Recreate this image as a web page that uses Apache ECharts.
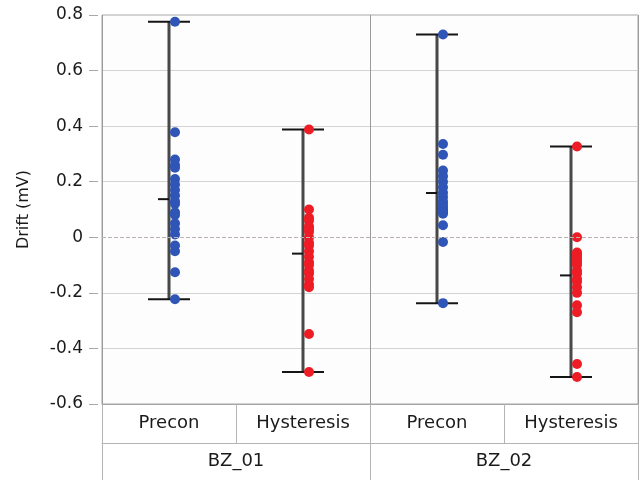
<!DOCTYPE html>
<html>
<head>
<meta charset="utf-8">
<script src="https://cdn.jsdelivr.net/npm/echarts@6/dist/echarts.min.js"></script>
<style>
html,body{margin:0;padding:0;background:#fff;}
#chart{width:641px;height:480px;}
</style>
</head>
<body>
<div id="chart"></div>
<script>
// ---- data ----
const categories = ['Precon', 'Hysteresis', 'Precon', 'Hysteresis'];
const groups = ['BZ_01', 'BZ_02'];
const bz01Precon = [0.776, 0.378, 0.28, 0.26, 0.25, 0.21, 0.19, 0.17, 0.15, 0.13, 0.12, 0.09, 0.08, 0.05, 0.03, 0.01, -0.03, -0.05, -0.126, -0.223];
const bz01Hysteresis = [0.388, 0.10, 0.07, 0.06, 0.04, 0.03, 0.02, 0.0, -0.02, -0.03, -0.05, -0.07, -0.09, -0.10, -0.12, -0.13, -0.15, -0.17, -0.18, -0.348, -0.485];
const bz02Precon = [0.73, 0.336, 0.297, 0.24, 0.22, 0.20, 0.18, 0.16, 0.145, 0.13, 0.12, 0.11, 0.10, 0.095, 0.09, 0.085, 0.043, -0.017, -0.237];
const bz02Hysteresis = [0.327, 0.0, -0.055, -0.06, -0.065, -0.07, -0.08, -0.09, -0.10, -0.12, -0.13, -0.15, -0.16, -0.18, -0.20, -0.245, -0.27, -0.456, -0.503];
const yMin = -0.6, yMax = 0.8, yStep = 0.2;

const columns = [bz01Precon, bz01Hysteresis, bz02Precon, bz02Hysteresis];
const BLUE = '#2f56b6', RED = '#ee1c25';
const colColors = [BLUE, RED, BLUE, RED];

// summary per column (min, max, mean) computed from the data
const summary = columns.map((vals, i) => {
  const mean = vals.reduce((a, b) => a + b, 0) / vals.length;
  return [i, Math.min(...vals), Math.max(...vals), mean];
});
const pointsBlue = [], pointsRed = [];
columns.forEach((vals, i) => {
  vals.forEach(v => (colColors[i] === BLUE ? pointsBlue : pointsRed).push([i, v]));
});

const chart = echarts.init(document.getElementById('chart'), null, {renderer: 'canvas'});
const font = 'DejaVu Sans';
const zeroIdx = Math.round((0 - yMin) / yStep);
const splitColors = [];
for (let k = 0; k <= Math.round((yMax - yMin) / yStep); k++) splitColors.push(k === zeroIdx ? 'rgba(0,0,0,0)' : '#d3d3d3');

chart.setOption({
  animation: false,
  backgroundColor: '#ffffff',
  grid: {left: 102, right: 3, top: 15, bottom: 76, show: true, borderColor: '#a6a6a6', borderWidth: 1, backgroundColor: '#fdfdfe'},
  xAxis: [
    {
      type: 'category', data: categories, position: 'bottom',
      axisLine: {show: true, onZero: false, lineStyle: {color: '#a6a6a6', width: 1}},
      axisTick: {show: true, length: 39, lineStyle: {color: '#b4b4b4'}},
      axisLabel: {fontFamily: font, fontSize: 18, color: '#1a1a1a', margin: 19, verticalAlign: 'middle'},
      splitLine: {show: false}
    },
    {
      type: 'category', data: groups, position: 'bottom', offset: 39,
      axisLine: {show: true, onZero: false, lineStyle: {color: '#b4b4b4', width: 1}},
      axisTick: {show: true, length: 40, lineStyle: {color: '#b4b4b4'}},
      axisLabel: {fontFamily: font, fontSize: 18, color: '#1a1a1a', margin: 18, verticalAlign: 'middle'},
      splitLine: {show: true, lineStyle: {color: '#9a9a9a', width: 1}}
    }
  ],
  yAxis: {
    type: 'value', min: yMin, max: yMax, interval: yStep, offset: 4,
    name: 'Drift (mV)', nameLocation: 'middle', nameGap: 66,
    nameTextStyle: {fontFamily: font, fontSize: 16, color: '#1a1a1a'},
    axisLine: {show: false},
    axisTick: {show: true, length: 9, lineStyle: {color: '#a8a8a8'}},
    axisLabel: {fontFamily: font, fontSize: 17, color: '#1a1a1a', margin: 15},
    splitLine: {show: true, lineStyle: {color: splitColors, width: 1}}
  },
  series: [
    {
      type: 'custom', xAxisIndex: 0, z: 2,
      data: summary,
      renderItem: function (params, api) {
        const i = api.value(0);
        const top = api.coord([i, api.value(2)]);
        const bot = api.coord([i, api.value(1)]);
        const mn = api.coord([i, api.value(3)]);
        const x = top[0];
        return {
          type: 'group',
          children: [
            {type: 'line', shape: {x1: x, y1: top[1], x2: x, y2: bot[1]}, style: {stroke: '#484848', lineWidth: 3}},
            {type: 'line', shape: {x1: x - 21, y1: top[1], x2: x + 21, y2: top[1]}, style: {stroke: '#151515', lineWidth: 2}},
            {type: 'line', shape: {x1: x - 21, y1: bot[1], x2: x + 21, y2: bot[1]}, style: {stroke: '#151515', lineWidth: 2}},
            {type: 'line', shape: {x1: x - 11, y1: mn[1], x2: x, y2: mn[1]}, style: {stroke: '#151515', lineWidth: 2}}
          ]
        };
      },
      markLine: {
        silent: true, symbol: 'none', label: {show: false},
        lineStyle: {color: '#bdb3b3', type: 'dashed', width: 1},
        data: [{yAxis: 0}]
      }
    },
    {
      type: 'scatter', xAxisIndex: 0, z: 3, data: pointsBlue,
      symbolSize: 10, symbolOffset: [6, 0], itemStyle: {color: BLUE, opacity: 1}
    },
    {
      type: 'scatter', xAxisIndex: 0, z: 3, data: pointsRed,
      symbolSize: 10, symbolOffset: [6, 0], itemStyle: {color: RED, opacity: 1}
    }
  ]
});
</script>
</body>
</html>
